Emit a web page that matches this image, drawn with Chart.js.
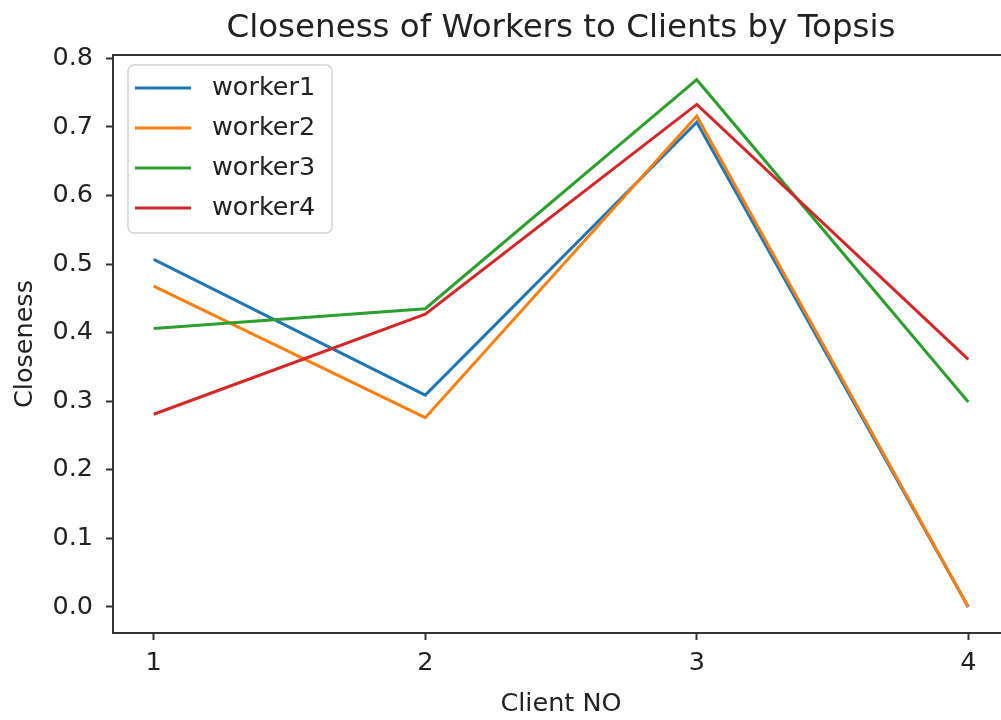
<!DOCTYPE html>
<html>
<head>
<meta charset="utf-8">
<script src="https://cdn.jsdelivr.net/npm/chart.js@4/dist/chart.umd.min.js"></script>
<style>
  html, body { margin: 0; padding: 0; background: #fff; overflow: hidden; }
  canvas { display: block; }
</style>
</head>
<body>
<canvas id="chart" width="1010" height="720"></canvas>
<script>
// Topsis closeness per client, one series per worker
const clients = [1, 2, 3, 4];
const worker1 = [0.507, 0.309, 0.707, 0.0];
const worker2 = [0.468, 0.276, 0.716, 0.0];
const worker3 = [0.406, 0.435, 0.769, 0.299];
const worker4 = [0.281, 0.427, 0.733, 0.361];
const seriesNames = ['worker1', 'worker2', 'worker3', 'worker4'];
const yTicks = [0.0, 0.1, 0.2, 0.3, 0.4, 0.5, 0.6, 0.7, 0.8];
const chartTitle = 'Closeness of Workers to Clients by Topsis';

const palette = ['#1f77b4', '#ff7f0e', '#2ca02c', '#d62728'];
const FONT = 'DejaVu Sans';
const TEXT = '#222';

const series = [worker1, worker2, worker3, worker4];

// title centred over the plot, top/right spines, boxed legend in the upper-left
const framePlugin = {
    id: 'frame',
    afterDraw(chart) {
        const { ctx, chartArea: a } = chart;
        ctx.save();

        ctx.fillStyle = TEXT;
        ctx.font = '32.5px "' + FONT + '"';
        ctx.textAlign = 'center';
        ctx.textBaseline = 'alphabetic';
        ctx.fillText(chartTitle, (a.left + a.right) / 2, 37);

        ctx.strokeStyle = '#333';
        ctx.lineWidth = 2;
        ctx.beginPath();
        ctx.moveTo(a.left, a.top);
        ctx.lineTo(a.right, a.top);
        ctx.lineTo(a.right, a.bottom);
        ctx.stroke();

        // legend box
        const bx = a.left + 15, by = a.top + 10, bw = 204, bh = 168;
        ctx.fillStyle = 'rgba(255,255,255,0.8)';
        ctx.strokeStyle = '#d4d4d4';
        ctx.lineWidth = 1.5;
        ctx.beginPath();
        ctx.roundRect(bx, by, bw, bh, 6);
        ctx.fill();
        ctx.stroke();

        ctx.font = '25.5px "' + FONT + '"';
        ctx.textBaseline = 'middle';
        ctx.textAlign = 'left';
        chart.data.datasets.forEach((ds, i) => {
            const y = by + 23 + i * 40;
            ctx.strokeStyle = ds.borderColor;
            ctx.lineWidth = 3;
            ctx.beginPath();
            ctx.moveTo(bx + 7, y);
            ctx.lineTo(bx + 63, y);
            ctx.stroke();
            ctx.fillStyle = TEXT;
            ctx.fillText(ds.label, bx + 84, y);
        });
        ctx.restore();
    }
};

new Chart(document.getElementById('chart'), {
    type: 'line',
    data: {
        datasets: series.map((vals, i) => ({
            label: seriesNames[i],
            data: clients.map((c, j) => ({ x: c, y: vals[j] })),
            borderColor: palette[i],
            backgroundColor: palette[i],
            borderWidth: 3,
            pointRadius: 0,
            tension: 0,
            fill: false,
            order: series.length - i
        }))
    },
    options: {
        responsive: false,
        animation: false,
        devicePixelRatio: 1,
        layout: { padding: { left: 0, right: 1, top: 55, bottom: 0 } },
        plugins: {
            legend: { display: false },
            tooltip: { enabled: false },
            title: { display: false }
        },
        scales: {
            x: {
                type: 'linear',
                min: 0.85,
                max: 4.15,
                afterBuildTicks: s => { s.ticks = clients.map(v => ({ value: v })); },
                afterFit: s => { s.height = 87; },
                grid: { drawOnChartArea: false, drawTicks: true, tickLength: 7, tickColor: '#333', tickWidth: 2 },
                border: { display: true, color: '#333', width: 2 },
                ticks: {
                    color: TEXT,
                    padding: 8,
                    font: { family: FONT, size: 25.5 },
                    callback: v => String(v)
                },
                title: {
                    display: true,
                    text: 'Client NO',
                    color: TEXT,
                    font: { family: FONT, size: 25.5 },
                    padding: { top: 0, bottom: 0 }
                }
            },
            y: {
                min: -0.038,
                max: 0.805,
                afterBuildTicks: s => { s.ticks = yTicks.map(v => ({ value: v })); },
                afterFit: s => { s.width = 113; },
                grid: { drawOnChartArea: false, drawTicks: true, tickLength: 7, tickColor: '#333', tickWidth: 2 },
                border: { display: true, color: '#333', width: 2 },
                ticks: {
                    color: TEXT,
                    padding: 13,
                    font: { family: FONT, size: 25.5 },
                    callback: v => v.toFixed(1)
                },
                title: {
                    display: true,
                    text: 'Closeness',
                    color: TEXT,
                    font: { family: FONT, size: 25.5 },
                    padding: { top: 10, bottom: 0 }
                }
            }
        }
    },
    plugins: [framePlugin]
});
</script>
</body>
</html>
